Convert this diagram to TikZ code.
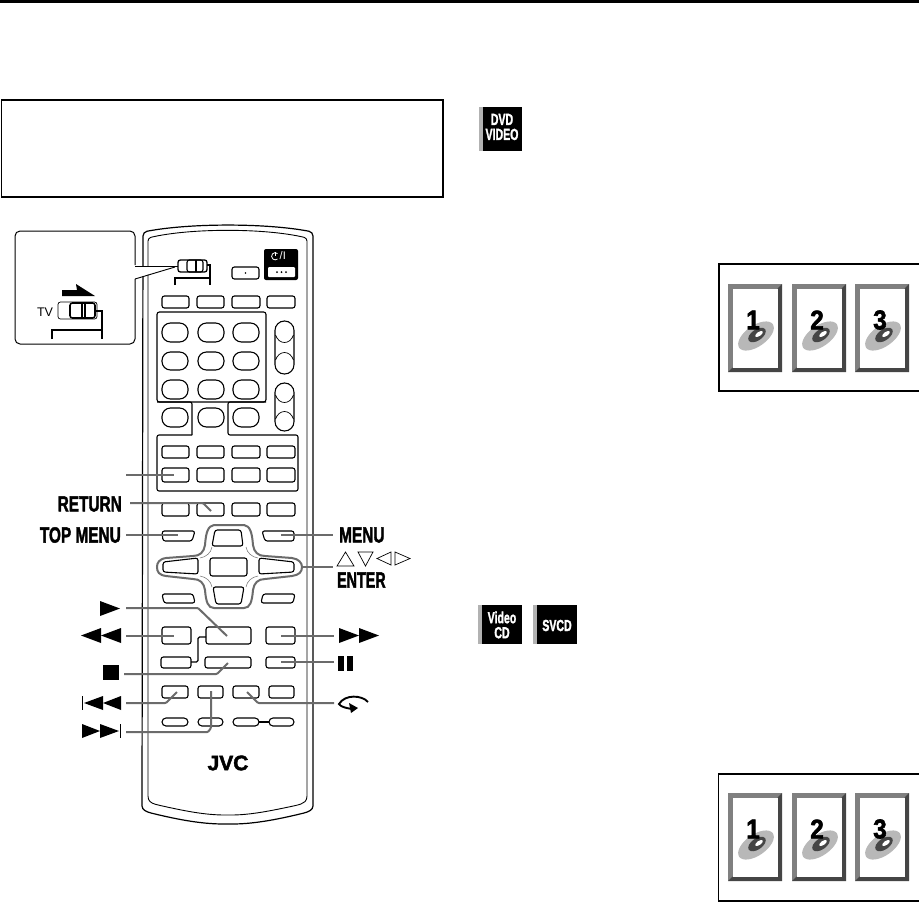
\documentclass[tikz,border=0pt]{standalone}
\usepackage{fontspec}
\setmainfont{Liberation Sans}
\newfontfamily\keyfont[BoldFeatures={FakeBold=2.2}]{Liberation Sans}
\usetikzlibrary{calc}
\definecolor{lead}{gray}{0.42}
\definecolor{cardl}{gray}{0.5}
\definecolor{cardd}{gray}{0.27}
\definecolor{disc}{gray}{0.72}
\tikzset{
  ln/.style={draw=black,line width=1.1pt},
  btn/.style={ln,rounded corners=2.4pt},
  oval/.style={ln,rounded corners=8.5pt},
  leader/.style={draw=lead,line width=2pt,rounded corners=1pt},
  keytext/.style={font=\keyfont\bfseries\fontsize{22}{22}\selectfont,xscale=0.70,transform shape,inner sep=0,text=black},
  badge/.style={font=\keyfont\bfseries\fontsize{16}{15}\selectfont,xscale=0.66,transform shape,inner sep=0,text=white,align=center},
}
\newcommand{\rowbtn}[2]{%
  \draw[btn] (162,#1) rectangle (189,#2);
  \draw[btn] (197,#1) rectangle (224,#2);
  \draw[btn] (232,#1) rectangle (260,#2);
  \draw[btn] (267,#1) rectangle (295,#2);}
\newcommand{\ovalrow}[2]{%
  \draw[oval] (162,#1) rectangle (188,#2);
  \draw[oval] (198,#1) rectangle (224,#2);
  \draw[oval] (233,#1) rectangle (259,#2);}
\newcommand{\card}[3]{% x, y, digit
  \fill[cardl] (#1,#2) rectangle ++(54,88);
  \fill[cardd] (#1+54,#2) -- ++(0,88) -- ++(-54,0) -- ++(4.5,-4.5) -- ++(45,0) -- ++(0,-79) -- cycle;
  \fill[white] (#1+4.5,#2+4.5) rectangle ++(45,79);
  \fill[disc,rotate around={35:(#1+28,#2+52)}] (#1+28,#2+52) ellipse (20.5 and 10.5);
  \fill[cardd,rotate around={35:(#1+29,#2+51)}] (#1+29,#2+51) ellipse (10 and 5.5);
  \fill[white,rotate around={35:(#1+31,#2+50)}] (#1+31,#2+50) ellipse (4.5 and 2);
  \node[font=\keyfont\bfseries\fontsize{27}{27}\selectfont,inner sep=0,text=black,xscale=0.9,transform shape] at (#1+25,#2+36) {#3};}
\begin{document}
\begin{tikzpicture}[x=1pt,y=-1pt]
\useasboundingbox (0,0) rectangle (919,903);
\fill[white] (0,0) rectangle (919,903);
% top rule
\fill[black] (0,0) rectangle (919,3);
% text box
\draw[line width=1.2pt] (1.5,100) rectangle (443,197);
% remote body
\draw[line width=1.2pt,rounded corners=4pt] (143,232) .. controls (190,223) and (266,223) .. (313,232) -- (313,802)
  .. controls (313,810) and (308,812) .. (300,814) .. controls (270,821) and (250,824) .. (228,824) .. controls (205,824) and (185,821) .. (155,814)
  .. controls (147,812) and (142,810) .. (142,802) -- cycle;
\draw[line width=0.9pt,rounded corners=3pt] (148,238) .. controls (190,228) and (265,228) .. (307,238) -- (307,793)
  .. controls (307,801) and (304,803) .. (298,805) .. controls (270,811) and (250,815) .. (228,815) .. controls (205,815) and (185,811) .. (158,805)
  .. controls (151,803) and (148,801) .. (148,793) -- cycle;
% switch on remote
\draw[btn,line width=1.3pt] (178,260) rectangle (207,272);
\draw[btn] (187,260) rectangle (203,272);
\draw[ln] (196,260) -- (196,272);
\draw[ln] (207,265) -- (210,265) -- (210,285);
\draw[ln] (175,285) -- (175,278) -- (210,278);
% small + power
\draw[btn] (232,267) rectangle (259,279);
\fill (245.5,273) circle (0.8);
\fill[black,rounded corners=2pt] (264,249) rectangle (298,280);
\fill[white,rounded corners=1pt] (268,267) rectangle (295,277);
\draw[white,line width=0.8pt] (277.5,253.5) arc[start angle=50,end angle=310,radius=3.6pt];
\draw[white,line width=0.8pt] (275.2,252) -- (275.2,256);
\node[font=\fontsize{11}{11}\selectfont,text=white,inner sep=0,anchor=west] (pw) at (279.5,256) {/I};
\foreach \x in {277,281.5,286} \fill (\x,272) circle (1);
% first row
\rowbtn{296}{308}
% number group
\draw[btn] (157,312) rectangle (266,402);
\ovalrow{323}{342}\ovalrow{352}{370}\ovalrow{380}{399}\ovalrow{408}{427}
\draw[ln,rounded corners=2pt] (157,402) -- (192,402) -- (192,435);
\draw[ln,rounded corners=2pt] (266,402) -- (228,402) -- (228,435) -- (298,435) -- (298,491) -- (157,491) -- (157,435) -- (192,435);
% volume ovals
\draw[ln,rounded corners=9.4pt] (275,321) rectangle (294,374);
\draw[line width=0.7pt] (275.5,335) .. controls (279,345) and (290,345) .. (293.5,335);
\draw[line width=0.7pt] (275.5,360) .. controls (279,350) and (290,350) .. (293.5,360);
\draw[ln,rounded corners=9.4pt] (275,383) rectangle (294,431);
\draw[line width=0.7pt] (275.5,395) .. controls (279,405) and (290,405) .. (293.5,395);
\draw[line width=0.7pt] (275.5,419) .. controls (279,409) and (290,409) .. (293.5,419);
% button rows
\rowbtn{446}{458}\rowbtn{468}{482}\rowbtn{503}{516}
% top menu / menu
\draw[btn] (162,531) -- (195,531) -- (192,541) -- (163,541) -- cycle;
\draw[btn] (262,531) -- (294,531) -- (294,541) -- (265,541) -- cycle;
\draw[btn] (162,594) -- (193,594) -- (195,603) -- (164,603) -- cycle;
\draw[btn] (263,594) -- (295,594) -- (293,603) -- (261,603) -- cycle;
% cross
\draw[draw=lead,line width=2pt] (214,525) -- (244,525) .. controls (250,526) and (252,532) .. (253,545) .. controls (254,552) and (258,556) .. (265,556) -- (292,558) .. controls (299,559) and (302,563) .. (302,567) .. controls (302,572) and (299,575) .. (292,576) -- (265,579) .. controls (258,579) and (254,583) .. (253,590) .. controls (252,602) and (250,608) .. (244,608) -- (214,608) .. controls (208,608) and (206,602) .. (205,590) .. controls (204,583) and (200,579) .. (193,579) -- (166,576) .. controls (159,575) and (157,572) .. (157,567) .. controls (157,563) and (159,559) .. (166,558) -- (193,556) .. controls (200,556) and (204,552) .. (205,545) .. controls (206,532) and (208,526) .. (214,525) -- cycle;
\draw[lead,line width=0.5pt] (246,547) .. controls (247,553) and (252,557) .. (258,558);
\draw[lead,line width=0.5pt] (212,547) .. controls (211,553) and (206,557) .. (200,558);
\draw[lead,line width=0.5pt] (246,587) .. controls (247,581) and (252,577) .. (258,576);
\draw[lead,line width=0.5pt] (212,587) .. controls (211,581) and (206,577) .. (200,576);
\draw[btn] (215,530) -- (241,530) -- (243,546) -- (212,546) -- cycle;
\draw[btn] (213,587) -- (244,587) -- (241,604) -- (216,604) -- cycle;
\draw[btn] (163,562) -- (198,558) -- (198,574) -- (163,572) -- cycle;
\draw[btn] (259,558) -- (294,562) -- (294,572) -- (259,574) -- cycle;
\draw[btn] (210,558) rectangle (247,576);
% transport
\draw[btn] (162,627) rectangle (191,644);
\draw[btn] (206,627) rectangle (251,644);
\draw[btn] (266,627) rectangle (295,644);
\draw[btn] (161,657) rectangle (191,668);
\draw[btn] (205,657) rectangle (251,668);
\draw[btn] (266,657) rectangle (295,668);
\draw[ln,rounded corners=1.5pt] (191,662) -- (198,662) -- (198,637) -- (206,637);
\draw[btn] (162,686) rectangle (188,698);
\draw[btn] (198,686) rectangle (223,698);
\draw[btn] (233,686) rectangle (259,698);
\draw[btn] (269,686) rectangle (294,698);
\draw[ln,rounded corners=4pt] (162,718) rectangle (188,726);
\draw[ln,rounded corners=4pt] (198,718) rectangle (223,726);
\draw[ln,rounded corners=4pt] (233,718) rectangle (259,726);
\draw[ln,rounded corners=4pt] (269,718) rectangle (294,726);
\draw[ln] (259,722) -- (269,722);
\node[font=\keyfont\bfseries\fontsize{21}{21}\selectfont,xscale=1.0,transform shape,inner sep=0] (jvc) at (228,763) {JVC};
% inset
\draw[fill=white,draw=black,line width=1pt,rounded corners=5pt] (135,265) -- (135,231) -- (15,231) -- (15,344) -- (135,344) -- (135,279);
\fill[white] (135,266.5) -- (135,278.5) -- (174,266.5) -- cycle;
\draw[line width=0.9pt] (135,266) -- (178,266);
\draw[line width=0.9pt] (135,279) -- (175,267);
\fill[black] (62,290) -- (77,290) -- (76,284) -- (95,296) -- (62,296) -- cycle;
\node[font=\fontsize{12.5}{12.5}\selectfont,inner sep=0] (tv) at (45,312) {TV};
\draw[line width=0.7pt,rounded corners=2.4pt] (58,302) rectangle (97,319);
\draw[btn,line width=1.6pt] (70,303) rectangle (95,318);
\draw[ln] (82,303) -- (82,318);
\draw[ln] (85,303) -- (85,318);
\draw[ln] (95,311) -- (102,311) -- (102,339);
\draw[ln] (52,339) -- (52,330) -- (102,330);
% leaders
\draw[leader] (126,475) -- (174,475);
\draw[leader] (130,503) -- (203,503) -- (211,511);
\draw[leader] (126,535) -- (178,535);
\draw[leader] (281,535) -- (333,535);
\draw[leader] (301,567) -- (333,567);
\draw[leader] (126,608) -- (198,608) -- (227,636);
\draw[leader] (126,636) -- (174,636);
\draw[leader] (281,636) -- (334,636);
\draw[leader] (281,662) -- (334,662);
\draw[leader] (124,674) -- (217,674) -- (228,663);
\draw[leader] (126,703) -- (166,703) -- (177,692);
\draw[leader] (126,732) -- (208,732) -- (211,728) -- (211,691);
\draw[leader] (334,703) -- (258,703) -- (247,692);
% key labels
\node[keytext,anchor=east] (ret) at (122,504) {RETURN};
\node[keytext,anchor=east] (top) at (121,535) {TOP MENU};
\node[keytext,anchor=west] (men) at (339,535) {MENU};
\node[keytext,anchor=west,xscale=0.93] (ent) at (337,580) {ENTER};
% symbols
\fill[black] (100,601) -- (120,608.5) -- (100,616) -- cycle;
\fill[black] (121,628) -- (101,635.5) -- (121,643) -- cycle;
\fill[black] (101,628) -- (81,635.5) -- (101,643) -- cycle;
\fill[black] (339,628) -- (359,635.5) -- (339,643) -- cycle;
\fill[black] (359,628) -- (379,635.5) -- (359,643) -- cycle;
\fill[black] (338,656) rectangle (344,671);
\fill[black] (347,656) rectangle (353,671);
\fill[black] (103,665) rectangle (119,680);
\fill[black] (121,696) -- (103,703) -- (121,710) -- cycle;
\fill[black] (103,696) -- (84,703) -- (103,710) -- cycle;
\draw[black,line width=1pt] (82.5,696) -- (82.5,710);
\fill[black] (82,724) -- (100,731) -- (82,738) -- cycle;
\fill[black] (100,724) -- (119,731) -- (100,738) -- cycle;
\draw[black,line width=1pt] (120.5,724) -- (120.5,738);
\draw[black,line width=1.9pt] (368,702) .. controls (362,695) and (345,694) .. (339,704) .. controls (341,707) and (346,708) .. (352,709);
\fill[black] (349,703) -- (358,708) -- (351,713) -- cycle;
\draw[line width=0.7pt] (337,566) -- (354,566) -- (345.5,552) -- cycle;
\draw[line width=0.7pt] (358,552) -- (373,552) -- (365.5,566) -- cycle;
\draw[line width=0.7pt] (391,552) -- (391,565) -- (377,558.5) -- cycle;
\draw[line width=0.7pt] (395,552) -- (395,565) -- (410,558.5) -- cycle;
% badges
\fill[black] (479,107) rectangle (522,151);
\fill[gray!60] (479,107) rectangle (483,151);
\node[badge] (b1) at (502,127) {DVD\\VIDEO};
\fill[black] (478,605) rectangle (522,644);
\fill[gray!60] (478,605) rectangle (482,644);
\node[badge] (b2) at (502,625) {Video\\CD};
\fill[black] (533,605) rectangle (577,644);
\fill[gray!60] (533,605) rectangle (537,644);
\node[badge] (b3) at (557,625.5) {SVCD};
% panels
\draw[line width=1.1pt] (919,264) -- (719,264) -- (719,391) -- (919,391);
\card{728}{284}{1}\card{792}{284}{2}\card{855}{284}{3}
\draw[line width=1.2pt] (919,774) -- (718.5,774) -- (718.5,901) -- (919,901);
\card{728}{793}{1}\card{792}{793}{2}\card{855}{793}{3}
\end{tikzpicture}
\end{document}
